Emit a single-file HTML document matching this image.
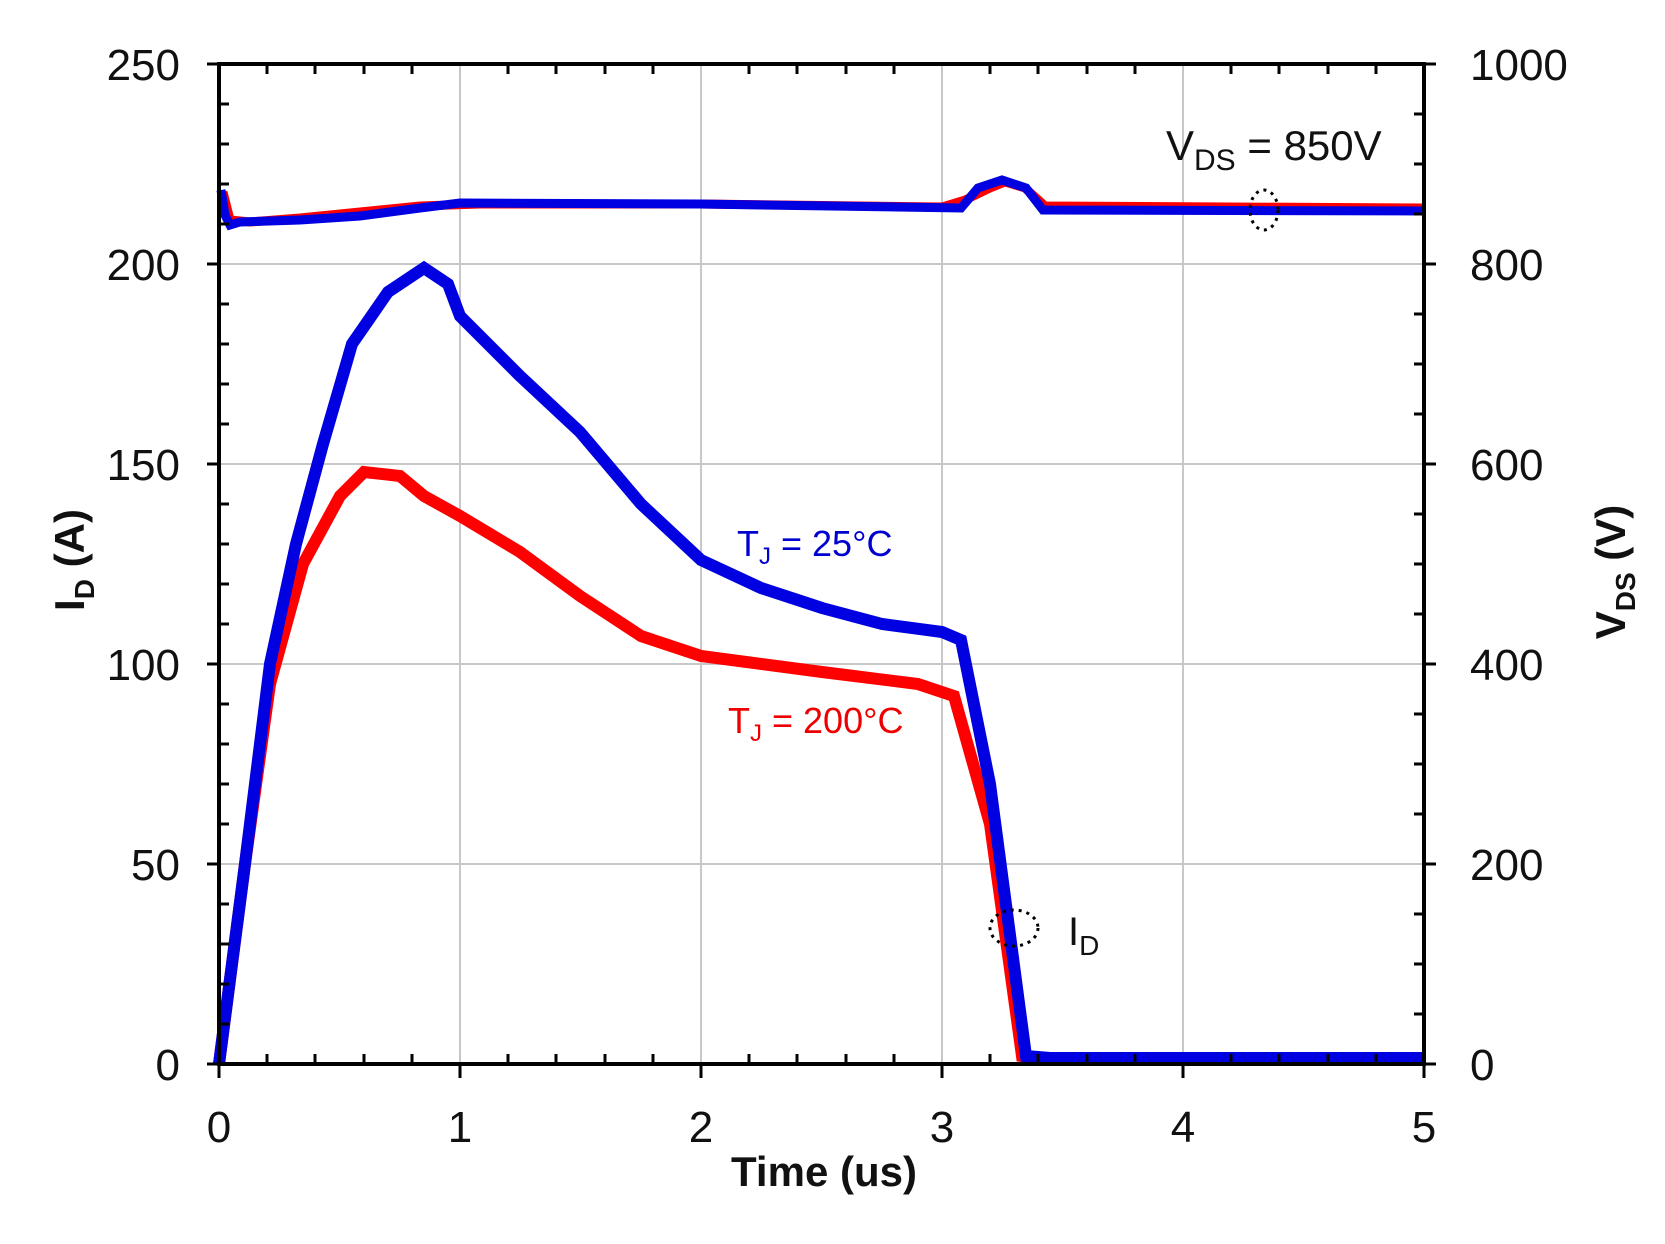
<!DOCTYPE html>
<html><head><meta charset="utf-8"><style>
html,body{margin:0;padding:0;background:#fff;}
svg{display:block;font-family:"Liberation Sans",Arial,sans-serif;}
</style></head><body>
<svg width="1665" height="1244" viewBox="0 0 1665 1244" xmlns="http://www.w3.org/2000/svg">
<rect width="1665" height="1244" fill="#fff"/>
<g stroke="#c8c8c8" stroke-width="2">
<line x1="460" y1="64" x2="460" y2="1064"/><line x1="701" y1="64" x2="701" y2="1064"/>
<line x1="942" y1="64" x2="942" y2="1064"/><line x1="1183" y1="64" x2="1183" y2="1064"/>
<line x1="219" y1="264" x2="1424" y2="264"/><line x1="219" y1="464" x2="1424" y2="464"/>
<line x1="219" y1="664" x2="1424" y2="664"/><line x1="219" y1="864" x2="1424" y2="864"/>
</g>
<g fill="none" stroke-linejoin="miter">
<polyline stroke="#f00" stroke-width="9" points="223,192 230,220 250,222 300,218 360,212 420,206 480,204 700,204 942,207 965,200 990,188 1005,182 1025,188 1045,206 1424,208"/>
<polyline stroke="#0000e0" stroke-width="9" points="221,190 225,215 230,225 240,222 300,220 360,216 420,208 460,203 700,204 961,208 978,188 1002,180 1026,188 1043,210 1424,211"/>
<polyline stroke="#f00" stroke-width="12" points="219,1064 245,864 270,684 303,564 340,496 364,472 400,476 424,496 460,516 520,552 580,596 641,636 701,656 822,672 918,684 954,696 990,824 1022,1056 1040,1058 1424,1058"/>
<polyline stroke="#0000e0" stroke-width="12" points="219,1064 245,864 270,664 296,544 323,444 352,344 388,292 424,268 448,284 460,316 520,376 580,432 641,504 701,560 761,588 822,608 882,624 942,632 961,640 990,784 1026,1056 1050,1058 1424,1058"/>
</g>
<g stroke="#000" stroke-width="4" fill="none">
<rect x="219" y="64" width="1205" height="1000"/>
</g>
<g stroke="#000" stroke-width="3">
<path d="M219 104h10M219 144h10M219 184h10M219 224h10M219 304h10M219 344h10M219 384h10M219 424h10M219 504h10M219 544h10M219 584h10M219 624h10M219 704h10M219 744h10M219 784h10M219 824h10M219 904h10M219 944h10M219 984h10M219 1024h10"/>
<path d="M207 64h12M207 264h12M207 464h12M207 664h12M207 864h12M207 1064h12"/>
<path d="M1424 114h-10M1424 164h-10M1424 214h-10M1424 314h-10M1424 364h-10M1424 414h-10M1424 514h-10M1424 564h-10M1424 614h-10M1424 714h-10M1424 764h-10M1424 814h-10M1424 914h-10M1424 964h-10M1424 1014h-10"/>
<path d="M1424 64h12M1424 264h12M1424 464h12M1424 664h12M1424 864h12M1424 1064h12"/>
<path d="M267 1064v-10M315 1064v-10M364 1064v-10M412 1064v-10M508 1064v-10M556 1064v-10M605 1064v-10M653 1064v-10M749 1064v-10M797 1064v-10M846 1064v-10M894 1064v-10M990 1064v-10M1038 1064v-10M1087 1064v-10M1135 1064v-10M1231 1064v-10M1279 1064v-10M1328 1064v-10M1376 1064v-10"/>
<path d="M219 1064v14M460 1064v14M701 1064v14M942 1064v14M1183 1064v14M1424 1064v14"/>
<path d="M267 64v10M315 64v10M364 64v10M412 64v10M508 64v10M556 64v10M605 64v10M653 64v10M749 64v10M797 64v10M846 64v10M894 64v10M990 64v10M1038 64v10M1087 64v10M1135 64v10M1231 64v10M1279 64v10M1328 64v10M1376 64v10"/>
</g>
<g font-size="44" fill="#111" text-anchor="end">
<text x="180" y="80">250</text><text x="180" y="280">200</text><text x="180" y="480">150</text>
<text x="180" y="680">100</text><text x="180" y="880">50</text><text x="180" y="1080">0</text>
</g>
<g font-size="44" fill="#111" text-anchor="start">
<text x="1470" y="80">1000</text><text x="1470" y="280">800</text><text x="1470" y="480">600</text>
<text x="1470" y="680">400</text><text x="1470" y="880">200</text><text x="1470" y="1080">0</text>
</g>
<g font-size="44" fill="#111" text-anchor="middle">
<text x="219" y="1142">0</text><text x="460" y="1142">1</text><text x="701" y="1142">2</text>
<text x="942" y="1142">3</text><text x="1183" y="1142">4</text><text x="1424" y="1142">5</text>
</g>
<text x="824" y="1186" font-size="42" font-weight="bold" text-anchor="middle" fill="#111">Time (us)</text>
<text transform="translate(84,560) rotate(-90)" font-size="42" font-weight="bold" text-anchor="middle" fill="#111">I<tspan font-size="28" dy="10">D</tspan><tspan dy="-10"> (A)</tspan></text>
<text transform="translate(1625,572) rotate(-90)" font-size="42" font-weight="bold" text-anchor="middle" fill="#111">V<tspan font-size="28" dy="10">DS</tspan><tspan dy="-10"> (V)</tspan></text>
<text x="1166" y="160" font-size="42" fill="#111">V<tspan font-size="30" dy="10">DS</tspan><tspan dy="-10"> = 850V</tspan></text>
<ellipse cx="1264" cy="210" rx="14" ry="20" fill="none" stroke="#000" stroke-width="3" stroke-dasharray="3,5"/>
<text x="737" y="556" font-size="36" fill="#0000d0">T<tspan font-size="24" dy="8">J</tspan><tspan dy="-8"> = 25°C</tspan></text>
<text x="728" y="733" font-size="36" fill="#e00">T<tspan font-size="24" dy="8">J</tspan><tspan dy="-8"> = 200°C</tspan></text>
<ellipse cx="1014" cy="928" rx="24" ry="18" fill="none" stroke="#000" stroke-width="3" stroke-dasharray="3,5"/>
<text x="1068" y="945" font-size="40" fill="#111">I<tspan font-size="28" dy="10">D</tspan></text>
</svg>
</body></html>
